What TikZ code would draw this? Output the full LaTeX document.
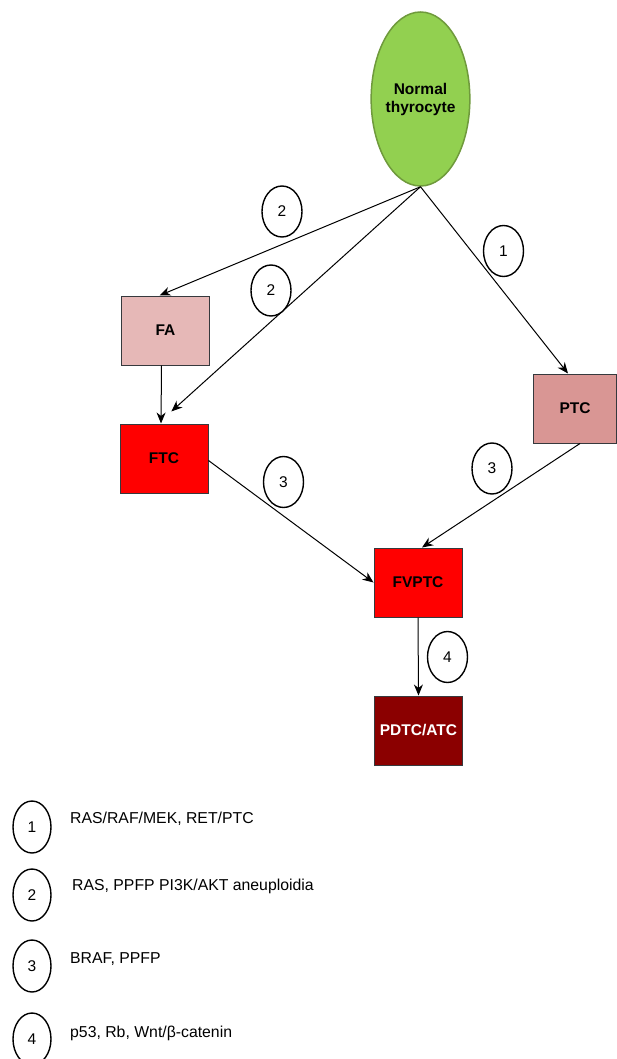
\documentclass[tikz,border=0pt]{standalone}
\usepackage{fontspec}
\setmainfont{Liberation Sans}
\usetikzlibrary{shapes.geometric,arrows.meta}
\definecolor{cellgreen}{HTML}{92D050}
\definecolor{cellgreenborder}{HTML}{6F9A3C}
\definecolor{faPink}{HTML}{E6B8B7}
\definecolor{ptcPink}{HTML}{D99694}
\definecolor{brightRed}{HTML}{FF0000}
\definecolor{darkRed}{HTML}{8B0000}
\definecolor{boxBorder}{HTML}{36393D}
\tikzset{
  stagebox/.style={draw=boxBorder, line width=1pt, minimum width=88pt, minimum height=69pt,
    inner sep=0pt, font=\fontsize{15.5}{18}\selectfont\bfseries},
  numcircle/.style={ellipse, draw=black, line width=1.4pt, fill=white, minimum width=40pt,
    minimum height=51pt, inner sep=0pt, font=\fontsize{15.5}{18}\selectfont},
  legcircle/.style={numcircle, minimum width=38pt, minimum height=52pt},
  legtext/.style={anchor=west, inner sep=0pt, font=\fontsize{15.8}{18}\selectfont},
  conn/.style={draw=black, line width=1pt, -{Stealth[length=11pt,width=9pt,inset=3.5pt]}}
}
\begin{document}
\begin{tikzpicture}[x=1pt,y=-1pt]
\useasboundingbox (0,0) rectangle (617,1059);
\begin{scope}
\clip (0,0) rectangle (617,1059);
% main nodes
\node[ellipse, draw=cellgreenborder, line width=1.5pt, fill=cellgreen, minimum width=93pt,
  minimum height=174pt, inner sep=0pt, align=center,
  font=\fontsize{15.5}{18}\selectfont\bfseries] (cell) at (420.5,99) {Normal\\thyrocyte};
\node[stagebox, fill=faPink] (FA) at (165.5,330.5) {FA};
\node[stagebox, fill=brightRed] (FTC) at (164,458.5) {FTC};
\node[stagebox, fill=ptcPink, minimum width=83pt] (PTC) at (575,408.5) {PTC};
\node[stagebox, fill=brightRed] (FVPTC) at (418,582.5) {FVPTC};
\node[stagebox, fill=darkRed, text=white] (PDTC) at (418.5,730.5) {PDTC/ATC};
% connectors
\draw[conn] (cell.south) -- ([xshift=-6pt]FA.north);
\draw[conn, shorten >=18pt] (cell.south) -- ([xshift=-6pt]FTC.north);
\draw[conn] (cell.south) -- ([xshift=-7pt]PTC.north);
\draw[conn] ([xshift=-4pt]FA.south) -- ([xshift=-3pt]FTC.north);
\draw[conn] ([yshift=-2pt]FTC.east) -- (FVPTC.west);
\draw[conn] ([xshift=5pt]PTC.south) -- ([xshift=4pt]FVPTC.north);
\draw[conn] (FVPTC.south) -- (PDTC.north);
% label circles
\node[numcircle] (l2a) at (282,211.5) {2};
\node[numcircle] (l2b) at (271,290.5) {2};
\node[numcircle] (l1) at (503.5,251) {1};
\node[numcircle] (l3a) at (283.5,482) {3};
\node[numcircle] (l3b) at (492,468.5) {3};
\node[numcircle] (l4) at (447.5,657) {4};
% legend
\node[legcircle] (g1) at (32,827) {1};
\node[legtext] (t1) at (70,819) {RAS/RAF/MEK, RET/PTC};
\node[legcircle] (g2) at (32,895) {2};
\node[legtext] (t2) at (72,886) {RAS, PPFP PI3K/AKT aneuploidia};
\node[legcircle] (g3) at (32,966) {3};
\node[legtext] (t3) at (70,959) {BRAF, PPFP};
\node[legcircle] (g4) at (32,1039) {4};
\node[legtext] (t4) at (70,1033) {p53, Rb, Wnt/β-catenin};
\end{scope}
\end{tikzpicture}
\end{document}
